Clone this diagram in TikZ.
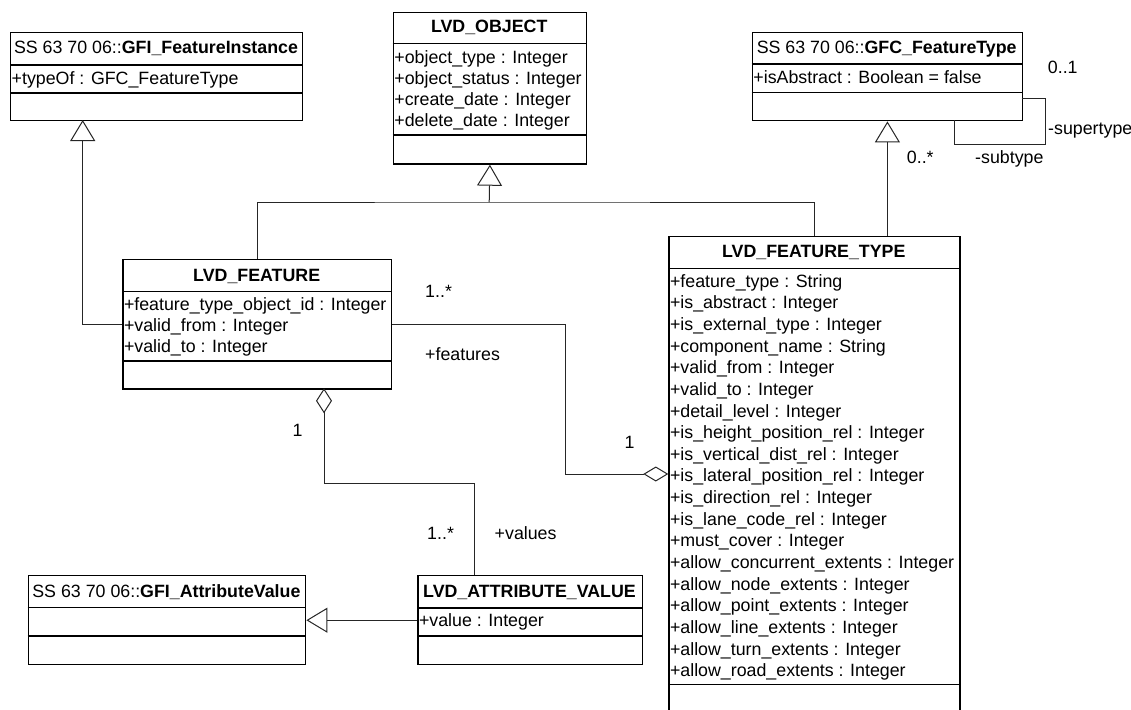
\documentclass[tikz,border=0pt]{standalone}
\usepackage{fontspec}
\setmainfont{Liberation Sans}
\usetikzlibrary{arrows.meta}
\newcommand{\umlfont}{\fontsize{17.8}{21.6}\selectfont}

\begin{document}
\begin{tikzpicture}[x=1pt,y=-1pt,
  box/.style={draw,line width=1.4pt,inner sep=0pt,anchor=north west},
  sep/.style={line width=1.4pt},
  title/.style={anchor=base,inner sep=0pt,font=\umlfont},
  attr/.style={anchor=base west,inner sep=0pt,font=\umlfont},
  lbl/.style={anchor=base west,inner sep=0pt,font=\umlfont},
  conn/.style={draw,line width=1pt,black!85},
  inherit/.style={conn,-{Triangle[open,length=21pt,width=25pt]}},
  agg/.style={conn,-{Diamond[open,length=25pt,width=15pt]}}]

  \useasboundingbox (0,0) rectangle (1131,709);
  \clip (0,0) rectangle (1131,709);

  % class boxes
  \node[box,minimum width=292pt,minimum height=88.3pt] (fi) at (10,31.7) {};
  \node[box,minimum width=193pt,minimum height=151.6pt] (obj) at (392.7,11.7) {};
  \node[box,minimum width=270pt,minimum height=88.3pt] (gfc) at (751.7,31.7) {};
  \node[box,minimum width=268.7pt,minimum height=129.3pt] (feat) at (122.3,259) {};
  \node[box,minimum width=291pt,minimum height=480pt] (ft) at (668.3,236) {};
  \node[box,minimum width=277.3pt,minimum height=89pt] (gav) at (27.7,575) {};
  \node[box,minimum width=224.4pt,minimum height=89pt] (av) at (417.3,575) {};

  % compartments
  \draw[sep] (10,65) -- (302,65) (10,93) -- (302,93);
  \draw[sep] (392.7,43.3) -- (585.7,43.3) (392.7,135) -- (585.7,135);
  \draw[sep] (751.7,64) -- (1021.7,64) (751.7,92.7) -- (1021.7,92.7);
  \draw[sep] (122.3,291.7) -- (391,291.7) (122.3,361) -- (391,361);
  \draw[sep] (668.3,268.3) -- (959.3,268.3) (668.3,684.3) -- (959.3,684.3);
  \draw[sep] (27.7,607.7) -- (305,607.7) (27.7,636) -- (305,636);
  \draw[sep] (417.3,608) -- (641.7,608) (417.3,636) -- (641.7,636);

  % titles
  \node[title] (fi-t) at (156,54) {SS 63 70 06::\textbf{GFI\_FeatureInstance}};
  \node[title] (obj-t) at (489.2,32.7) {\textbf{LVD\_OBJECT}};
  \node[title] (gfc-t) at (886.7,53.5) {SS 63 70 06::\textbf{GFC\_FeatureType}};
  \node[title] (feat-t) at (256.7,281) {\textbf{LVD\_FEATURE}};
  \node[title] (ft-t) at (813.8,257.7) {\textbf{LVD\_FEATURE\_TYPE}};
  \node[title] (gav-t) at (166.4,597.3) {SS 63 70 06::\textbf{GFI\_AttributeValue}};
  \node[title] (av-t) at (529.5,597.3) {\textbf{LVD\_ATTRIBUTE\_VALUE}};

  % attributes
  \node[attr] (fi-a1) at (11.5,84) {+typeOf : GFC\_FeatureType};
  \node[attr] (gfc-a1) at (753.2,83.3) {+isAbstract : Boolean = false};
  \node[attr] (av-a1) at (418.8,626) {+value : Integer};
  \foreach \a [count=\i] in {+object\_type : Integer, +object\_status : Integer,
      +create\_date : Integer, +delete\_date : Integer}
    \node[attr] (obj-a\i) at (394.2,42.2+\i*21.1) {\a};
  \foreach \a [count=\i] in {+feature\_type\_object\_id : Integer,
      +valid\_from : Integer, +valid\_to : Integer}
    \node[attr] (feat-a\i) at (123.8,289.7+\i*21) {\a};
  \foreach \a [count=\i] in {+feature\_type : String, +is\_abstract : Integer,
      +is\_external\_type : Integer, +component\_name : String,
      +valid\_from : Integer, +valid\_to : Integer, +detail\_level : Integer,
      +is\_height\_position\_rel : Integer, +is\_vertical\_dist\_rel : Integer,
      +is\_lateral\_position\_rel : Integer, +is\_direction\_rel : Integer,
      +is\_lane\_code\_rel : Integer, +must\_cover : Integer,
      +allow\_concurrent\_extents : Integer, +allow\_node\_extents : Integer,
      +allow\_point\_extents : Integer, +allow\_line\_extents : Integer,
      +allow\_turn\_extents : Integer, +allow\_road\_extents : Integer}
    \node[attr] (ft-a\i) at (669.8,265.67+\i*21.63) {\a};

  % connector points
  \coordinate (fi-in) at (82.7,120);
  \coordinate (obj-j) at (489.2,202);
  \coordinate (gfc-a) at (1021.7,98.3);
  \coordinate (gfc-b) at (954.3,120);
  \coordinate (gfc-c) at (1045.3,144.3);
  \coordinate (feat-d) at (324,388.3);
  \coordinate (val-k) at (474,483.3);
  \coordinate (fts-k) at (565,474);

  % generalisations
  \draw[inherit] (feat.west) -| (fi-in);
  \draw[conn] (feat.north) |- (obj-j) -| (ft.north);
  \draw[inherit] (obj-j) -- (obj.south);
  \draw[inherit] (ft.north -| gfc.south) -- (gfc.south);
  \draw[inherit] (av.west) -- (gav.east);

  % associations
  \draw[conn] (gfc-a) -| (gfc-c) -| (gfc-b);
  \draw[agg] (feat.east) -| (fts-k) -- (ft.west |- fts-k);
  \draw[conn,{Diamond[open,length=25pt,width=16pt]}-] (feat-d) |- (val-k) -- (av.north -| val-k);

  % multiplicities and roles
  \node[lbl] (m1) at (425,297.7) {1..*};
  \node[lbl] (r1) at (425,360.7) {+features};
  \node[lbl] (m2) at (624.5,448) {1};
  \node[lbl] (m3) at (292.5,436) {1};
  \node[lbl] (m4) at (427,539) {1..*};
  \node[lbl] (r2) at (494.5,539) {+values};
  \node[lbl] (m5) at (1047.7,73.5) {0..1};
  \node[lbl] (r3) at (1048,134.7) {-supertype};
  \node[lbl] (r4) at (975,163.3) {-subtype};
  \node[lbl] (m6) at (906.7,163.3) {0..*};
\end{tikzpicture}
\end{document}
